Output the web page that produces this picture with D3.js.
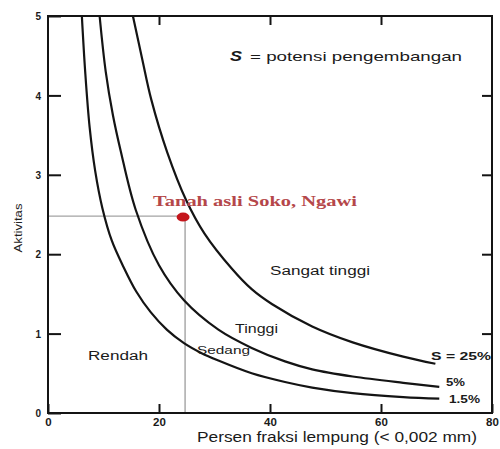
<!DOCTYPE html>
<html><head><meta charset="utf-8">
<script src="https://cdn.jsdelivr.net/npm/d3@7"></script>
<style>
html,body{margin:0;padding:0;background:#fff;}
svg{display:block;}
</style></head>
<body>
<svg id="c" width="500" height="449"></svg>
<script>
// ---- data ----
const xTicks = [0, 20, 40, 60, 80];
const yTicks = [0, 1, 2, 3, 4, 5];
const curve15x = [6.1, 6.7, 7.5, 8.5, 9.8, 11.5, 13.6, 15.9, 18.5, 21.4, 24.5, 27.5, 30.7, 36.7, 42.7, 47.6, 54.9, 64.0, 70.5];
const curve15y = [5.0, 4.3, 3.6, 3.05, 2.58, 2.17, 1.84, 1.53, 1.27, 1.05, 0.88, 0.76, 0.66, 0.50, 0.39, 0.32, 0.25, 0.20, 0.18];
const curve5x  = [9.3, 10.4, 11.7, 13.1, 15.8, 20.0, 24.5, 30.7, 36.7, 42.7, 47.6, 54.9, 64.0, 70.5];
const curve5y  = [5.0, 4.3, 3.75, 3.3, 2.56, 1.86, 1.42, 1.05, 0.82, 0.65, 0.55, 0.46, 0.38, 0.33];
const curve25x = [15.3, 17.0, 18.6, 21.5, 24.9, 28.2, 33.1, 36.7, 40.4, 47.6, 54.9, 64.0, 69.8];
const curve25y = [5.0, 4.45, 3.95, 3.28, 2.68, 2.26, 1.82, 1.56, 1.37, 1.09, 0.89, 0.71, 0.62];
const curveLabels = ["1.5%", "5%", "S = 25%"];
const sample = {x: 24.7, y: 2.48, label: "Tanah asli Soko, Ngawi"};
const zones = ["Rendah", "Sedang", "Tinggi", "Sangat tinggi"];
const legendText = "= potensi pengembangan";
const xTitle = "Persen fraksi lempung (< 0,002 mm)";
const yTitle = "Aktivitas";

// ---- layout ----
const SANS = "'Liberation Sans', Arial, Helvetica, sans-serif";
const SERIF = "'Liberation Serif', 'Times New Roman', serif";
const svg = d3.select("#c");
const x = d3.scaleLinear().domain([0, 80]).range([48, 492]);
const y = d3.scaleLinear().domain([0, 5]).range([413, 16]);

function txt(px, py, t, size, width, opts = {}) {
  const el = svg.append("text").attr("x", px).attr("y", py)
    .style("font-family", opts.family || SANS).style("font-size", size + "px")
    .style("font-weight", opts.weight || "normal").attr("fill", opts.fill || "#1a1a1a").text(t);
  if (width) el.attr("textLength", width).attr("lengthAdjust", "spacingAndGlyphs");
  if (opts.anchor) el.attr("text-anchor", opts.anchor);
  return el;
}

// guide lines
svg.append("line").attr("x1", x(0)).attr("x2", x(sample.x))
  .attr("y1", y(sample.y)).attr("y2", y(sample.y))
  .attr("stroke", "#a3a3a3").attr("stroke-width", 1.4);
svg.append("line").attr("x1", x(sample.x)).attr("x2", x(sample.x))
  .attr("y1", y(sample.y)).attr("y2", y(0))
  .attr("stroke", "#a3a3a3").attr("stroke-width", 1.4);

// curves
const line = d3.line().x(d => x(d[0])).y(d => y(d[1])).curve(d3.curveCatmullRom.alpha(0.5));
const series = [[curve15x, curve15y], [curve5x, curve5y], [curve25x, curve25y]];
series.forEach(([xs, ys]) => {
  svg.append("path").datum(xs.map((v, i) => [v, ys[i]]))
    .attr("d", line).attr("fill", "none").attr("stroke", "#141414").attr("stroke-width", 2.2);
});

// axes (ticks inward)
const gb = svg.append("g").attr("transform", `translate(0,${y(0)})`)
  .call(d3.axisBottom(x).tickValues(xTicks).tickSize(-9).tickFormat(d3.format("d")));
const gl = svg.append("g").attr("transform", `translate(${x(0)},0)`)
  .call(d3.axisLeft(y).tickValues(yTicks).tickSize(-13).tickFormat(d3.format("d")));
const gt = svg.append("g").attr("transform", `translate(0,${y(5)})`)
  .call(d3.axisTop(x).tickValues([20, 40, 60]).tickSize(-9).tickFormat(""));
const gr = svg.append("g").attr("transform", `translate(${x(80)},0)`)
  .call(d3.axisRight(y).tickValues([1, 2, 3, 4]).tickSize(-10).tickFormat(""));
[gb, gl, gt, gr].forEach(g => {
  g.select(".domain").remove();
  g.selectAll("line").attr("stroke", "#141414").attr("stroke-width", 2);
  g.selectAll("text").style("font-family", SANS).style("font-weight", "bold")
    .attr("fill", "#1a1a1a");
});
gb.selectAll("text").attr("y", 13).attr("dy", 0).style("font-size", "11.5px");
gl.selectAll("text").attr("x", -7).attr("dy", "0.36em").style("font-size", "10px");

// frame
svg.append("rect").attr("x", x(0)).attr("y", y(5)).attr("width", x(80) - x(0)).attr("height", y(0) - y(5))
  .attr("fill", "none").attr("stroke", "#141414").attr("stroke-width", 2);

// axis titles
txt(197, 442, xTitle, 14, 280);
svg.append("text").attr("transform", "translate(22,228) rotate(-90)").attr("text-anchor", "middle")
  .style("font-family", SANS).style("font-size", "10.5px").attr("fill", "#222")
  .attr("textLength", 49).attr("lengthAdjust", "spacingAndGlyphs").text(yTitle);

// curve labels
const lblBox = [[449, 403, 31], [446, 386, 19], [431, 360, 60]];
curveLabels.forEach((t, i) => {
  txt(lblBox[i][0], lblBox[i][1], t, 11, lblBox[i][2], {weight: "bold"});
});

// zone labels
const zoneBox = [[88, 360, 60, 12.5], [197, 354, 53, 11], [235, 333, 43, 12.5], [270, 275, 100, 12.5]];
zones.forEach((t, i) => {
  txt(zoneBox[i][0], zoneBox[i][1], t, zoneBox[i][3], zoneBox[i][2]);
});

// legend text
const lg = svg.append("text").attr("x", 230).attr("y", 61)
  .style("font-family", SANS).style("font-size", "13px").attr("fill", "#1a1a1a");
lg.append("tspan").style("font-style", "italic").style("font-weight", "bold").style("font-size", "15px")
  .attr("textLength", 12).attr("lengthAdjust", "spacingAndGlyphs").text("S");
lg.append("tspan").attr("x", 250).attr("textLength", 212).attr("lengthAdjust", "spacingAndGlyphs").text(legendText);

// sample point
svg.append("ellipse").attr("cx", x(sample.x) - 2).attr("cy", y(sample.y) + 1)
  .attr("rx", 6.5).attr("ry", 4.5).attr("fill", "#c4161c");
txt(153, 206, sample.label, 15, 204, {family: SERIF, weight: "bold", fill: "#b5474a"});
</script>
</body></html>
